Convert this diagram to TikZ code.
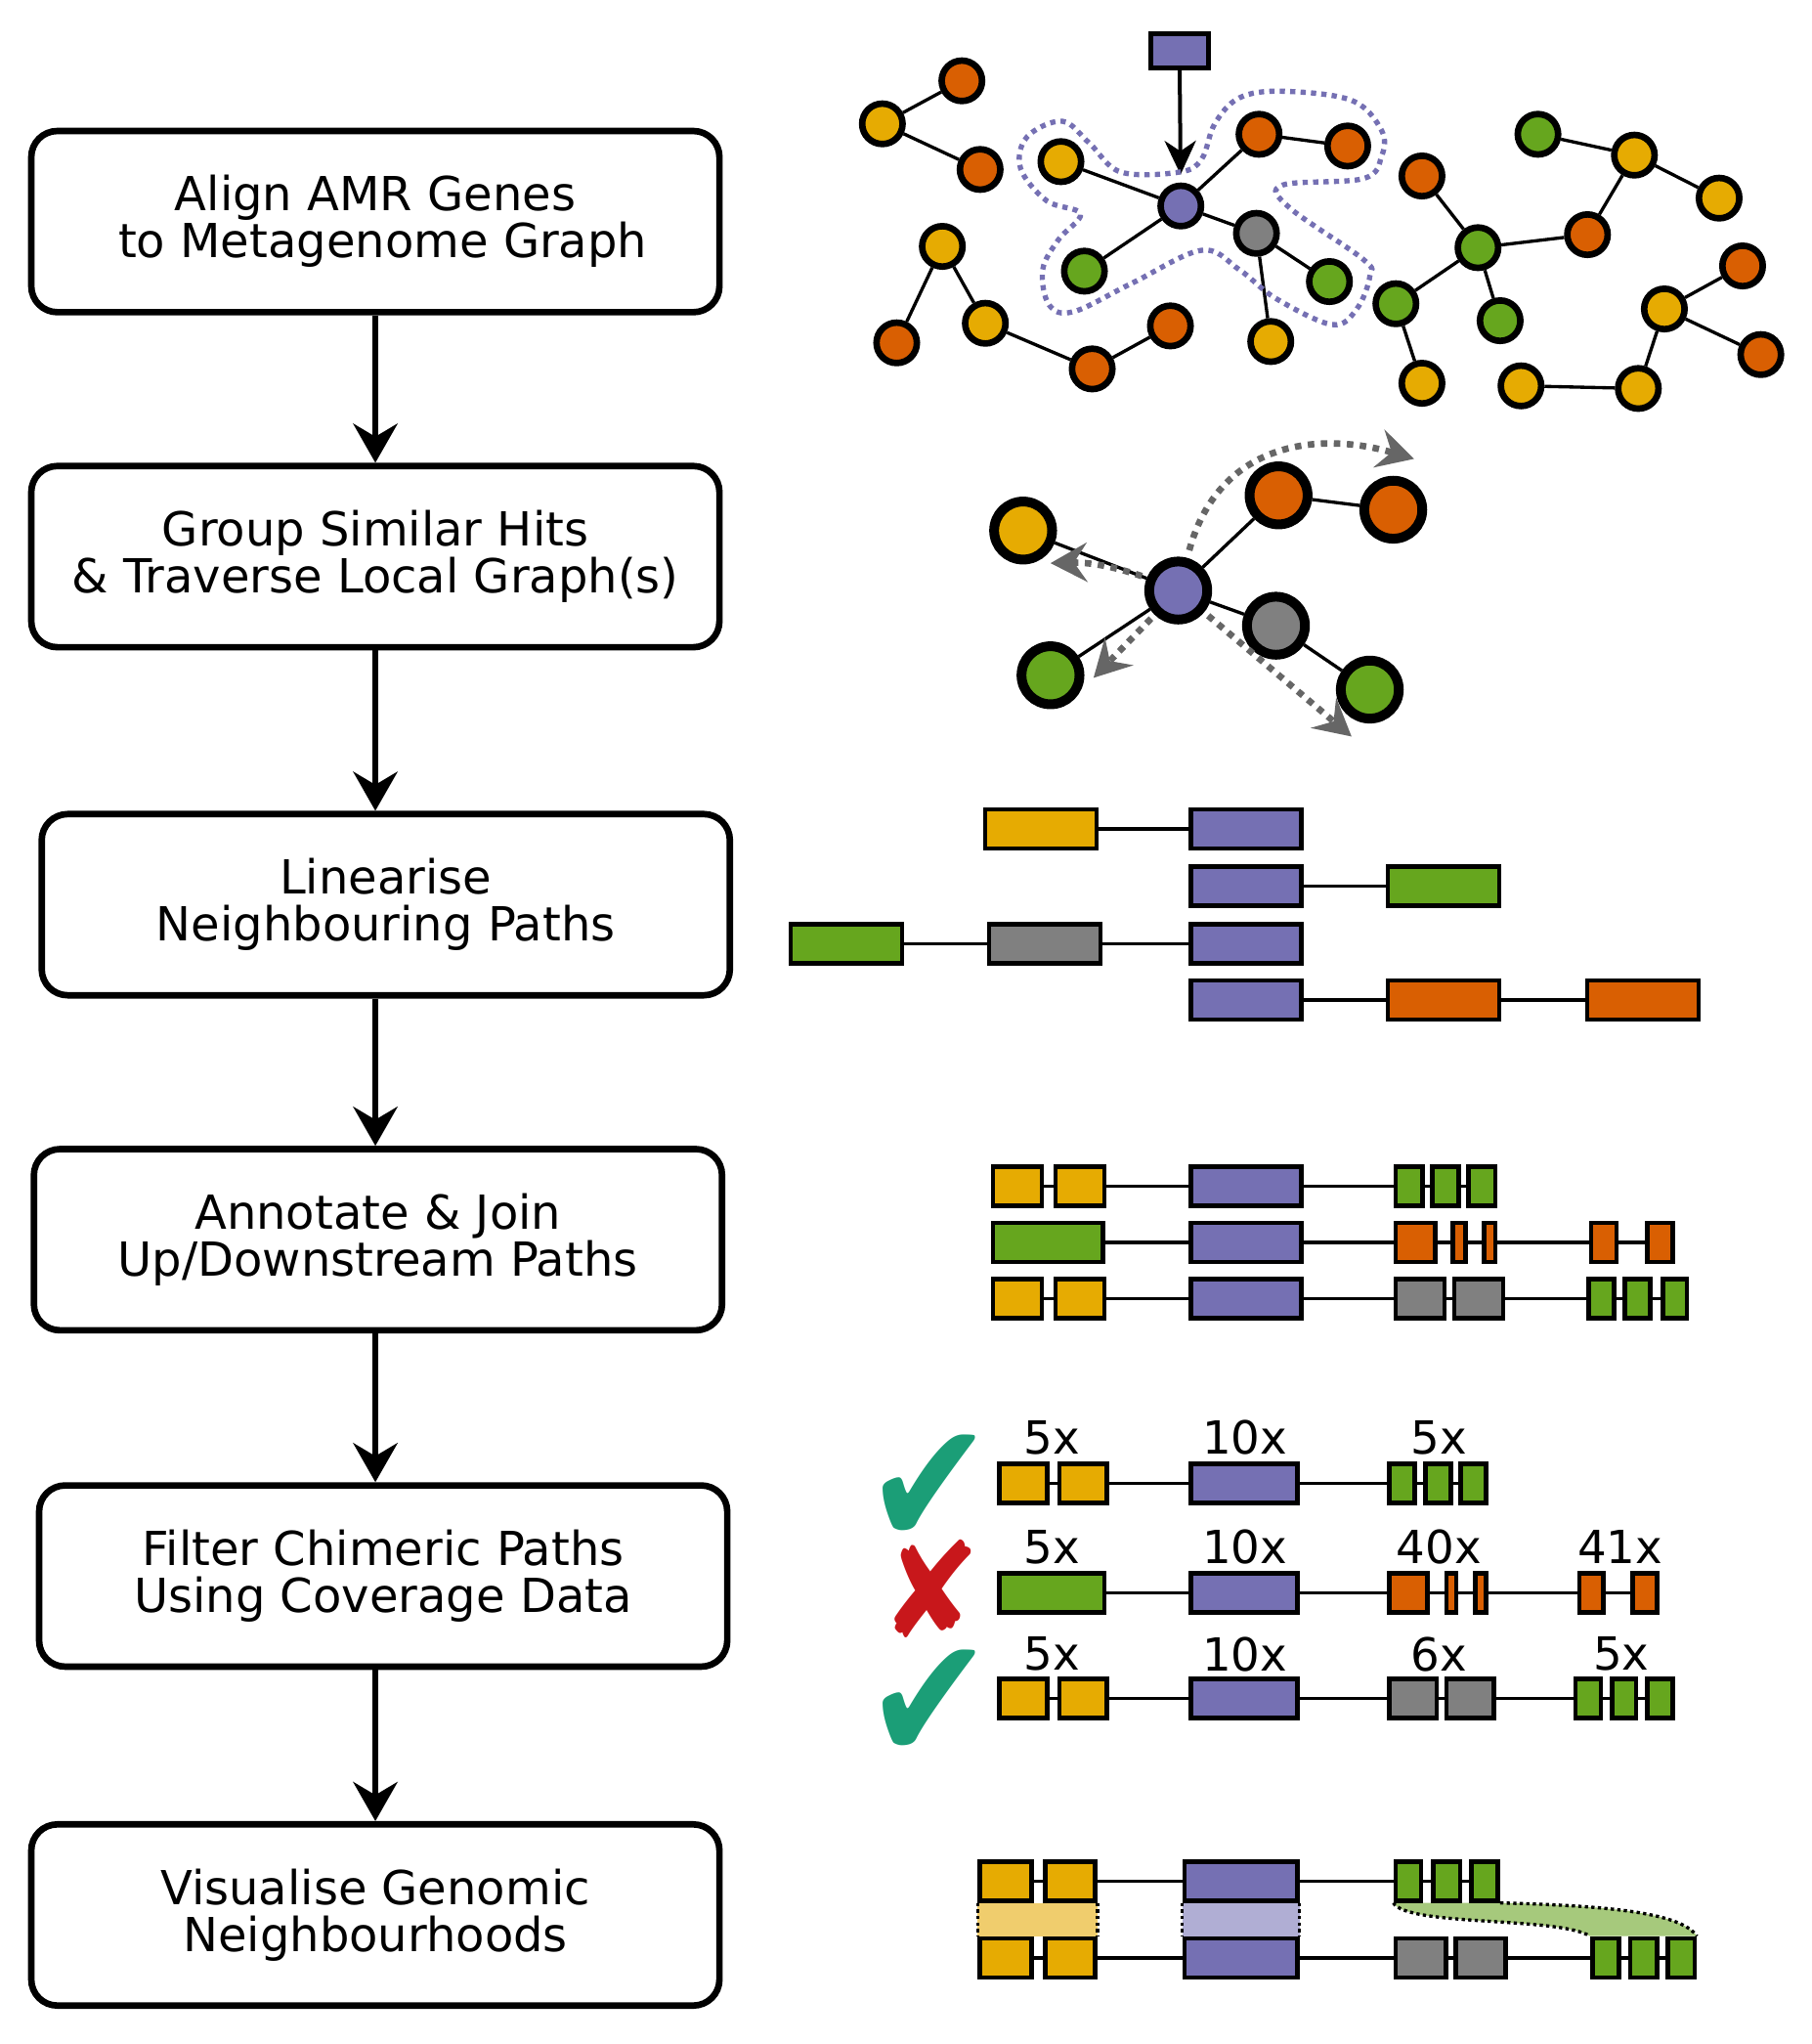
\documentclass[tikz,border=0pt]{standalone}
\usepackage{fontspec}
\setmainfont{DejaVu Sans}
\usetikzlibrary{arrows.meta}
\usetikzlibrary{positioning}
\usetikzlibrary{backgrounds}

\definecolor{ylw}{HTML}{E6AB02}
\definecolor{orn}{HTML}{D95F02}
\definecolor{prp}{HTML}{7570B3}
\definecolor{grn}{HTML}{66A61E}
\definecolor{gry}{HTML}{808080}
\definecolor{trgy}{HTML}{666666}
\definecolor{tick}{HTML}{1B9E77}
\definecolor{cross}{HTML}{C8171B}
\definecolor{lylw}{HTML}{F0CD6D}
\definecolor{lprp}{HTML}{B0AED4}
\definecolor{lgrn}{HTML}{A6C97C}

\begin{document}
\begin{tikzpicture}[x=1pt, y=-1pt,
  stage/.style={draw, line width=5pt, rounded corners=20pt,
    minimum width=528pt, minimum height=139pt, inner sep=0pt,
    align=center, font=\fontsize{36}{36}\selectfont},
  flow/.style={line width=4.5pt, -{Stealth[length=30pt, width=34pt, inset=10pt]}},
  gnode/.style={circle, draw, line width=5pt, minimum size=31pt, inner sep=0pt},
  bnode/.style={circle, draw, line width=7.5pt, minimum size=44.5pt, inner sep=0pt},
  gene/.style={rectangle, draw, line width=3.5pt, minimum height=30pt, inner sep=0pt},
  link/.style={line width=2.5pt},
  cov/.style={font=\fontsize{35}{35}\selectfont, inner sep=0pt},
  verdict/.style={font=\fontsize{90}{90}\selectfont, inner sep=0pt},
  trav/.style={draw=trgy, line width=5pt, dash pattern=on 5pt off 5pt,
    -{Stealth[length=28pt, width=30pt, inset=10pt]}},
  band/.style={line width=2.5pt, dash pattern=on 2.5pt off 2.5pt},
]
  \useasboundingbox (0,0) rectangle (1390,1568);

  % pipeline steps
  \node[stage] (st_1) at (288,170)  {Align AMR Genes\\\ to Metagenome Graph};
  \node[stage] (st_2) at (288,427)  {Group Similar Hits\\\& Traverse Local Graph(s)};
  \node[stage] (st_3) at (296,694)  {Linearise\\Neighbouring Paths};
  \node[stage] (st_4) at (290,951)  {Annotate \& Join\\Up/Downstream Paths};
  \node[stage] (st_5) at (294,1209) {Filter Chimeric Paths\\Using Coverage Data};
  \node[stage] (st_6) at (288,1469) {Visualise Genomic\\Neighbourhoods};
  \foreach \a/\b in {st_1/st_2, st_2/st_3, st_3/st_4, st_4/st_5, st_5/st_6}
    \draw[flow] (\a.south -| st_1.south) -- (\b.north -| st_1.south);

  % metagenome graph
  \foreach \n/\c/\x/\y in {t_1/orn/738/62, t_2/ylw/677/95, t_3/orn/752/130,
      t_4/ylw/723/189, t_5/orn/688/263, t_6/ylw/756/248, t_7/orn/838/283,
      t_8/orn/898/250, t_9/ylw/814/124, t_p/prp/906/158, t_10/orn/966/103,
      t_11/orn/1034/112, t_12/grn/832/208, t_13/gry/964/179, t_14/grn/1020/216,
      t_15/ylw/975/262, t_16/orn/1091/135, t_17/grn/1134/190, t_18/grn/1071/233,
      t_19/ylw/1091/294, t_20/grn/1151/246, t_21/orn/1218/180, t_22/ylw/1254/119,
      t_23/grn/1180/103, t_24/ylw/1319/152, t_25/orn/1337/204, t_26/ylw/1277/237,
      t_27/orn/1351/272, t_28/ylw/1257/298, t_29/ylw/1167/296}
    \node[gnode, fill=\c] (\n) at (\x,\y) {};
  \foreach \a/\b in {t_2/t_1, t_2/t_3, t_4/t_5, t_4/t_6, t_6/t_7, t_7/t_8,
      t_p/t_9, t_p/t_10, t_10/t_11, t_p/t_12, t_p/t_13, t_13/t_14, t_13/t_15,
      t_16/t_17, t_17/t_18, t_18/t_19, t_17/t_20, t_17/t_21, t_21/t_22,
      t_22/t_23, t_22/t_24, t_26/t_25, t_26/t_27, t_26/t_28, t_28/t_29}
    \draw[link] (\a) -- (\b);
  \node[gene, fill=prp, minimum width=44pt, minimum height=26pt] (hit) at (905,39) {};
  \draw[line width=3pt, shorten >=6pt, -{Stealth[length=26pt, width=24pt, inset=8pt]}]
    (hit) -- (t_p);
  \draw[prp, line width=4pt, dash pattern=on 4pt off 4pt]
    plot[smooth cycle, tension=0.6] coordinates {(824,239) (869,217) (922,192)
      (951,207) (979,229) (1022,249) (1041,237) (1051,212) (1046,199) (989,159)
      (984,142) (1046,137) (1060,120) (1060,100) (1037,77) (984,70) (951,75)
      (932,95) (922,122) (905,132) (860,132) (836,110) (815,93) (788,105)
      (783,129) (803,154) (829,164) (812,184) (800,207) (805,234)};

  % local graph
  \foreach \n/\c/\x/\y in {h_y/ylw/785/407, h_p/prp/904/453, h_o1/orn/981/380,
      h_o2/orn/1069/391, h_g/gry/979/480, h_n1/grn/1051/529, h_n2/grn/806/518}
    \node[bnode, fill=\c] (\n) at (\x,\y) {};
  \foreach \a/\b in {h_p/h_y, h_p/h_o1, h_o1/h_o2, h_p/h_g, h_g/h_n1, h_p/h_n2}
    \draw[link] (\a) -- (\b);
  \coordinate (h_t1) at (806,432);
  \coordinate (h_t2) at (839,520);
  \coordinate (h_t3) at (1037,565);
  \coordinate (h_t4) at (1085,352);
  \draw[trav, shorten <=4pt] (h_p) to[bend right=10] (h_t1);
  \draw[trav, shorten <=4pt] (h_p) -- (h_t2);
  \draw[trav, shorten <=4pt] (h_p) -- (h_t3);
  \draw[trav, shorten <=6pt] (h_p) .. controls (935,340) and (1010,330) .. (h_t4);

  % genes: name/colour/left/right/row
  \foreach \n/\c/\l/\r/\y in {
      l_1a/ylw/754/843/636, l_1b/prp/912/1000/636,
      l_2a/prp/912/1000/680, l_2b/grn/1063/1152/680,
      l_3a/grn/605/694/724, l_3b/gry/757/846/724, l_3c/prp/912/1000/724,
      l_4a/prp/912/1000/767, l_4b/orn/1063/1152/767, l_4c/orn/1216/1305/767,
      a_1a/ylw/760/801/910, a_1b/ylw/808/849/910, a_1c/prp/912/1000/910,
      a_1d/grn/1069/1093/910, a_1e/grn/1097/1121/910, a_1f/grn/1125/1149/910,
      a_2a/grn/760/848/953, a_2b/prp/912/1000/953, a_2c/orn/1069/1103/953,
      a_2d/orn/1113/1126/953, a_2e/orn/1137/1149/953, a_2f/orn/1219/1242/953,
      a_2g/orn/1262/1285/953,
      a_3a/ylw/760/801/996, a_3b/ylw/808/849/996, a_3c/prp/912/1000/996,
      a_3d/gry/1069/1110/996, a_3e/gry/1114/1155/996, a_3f/grn/1217/1240/996,
      a_3g/grn/1245/1268/996, a_3h/grn/1274/1296/996,
      f_1a/ylw/765/805/1138, f_1b/ylw/811/851/1138, f_1c/prp/912/997/1138,
      f_1d/grn/1064/1087/1138, f_1e/grn/1092/1115/1138, f_1f/grn/1119/1142/1138,
      f_2a/grn/765/849/1222, f_2b/prp/912/997/1222, f_2c/orn/1064/1097/1222,
      f_2d/orn/1108/1119/1222, f_2e/orn/1130/1142/1222, f_2f/orn/1210/1232/1222,
      f_2g/orn/1251/1273/1222,
      f_3a/ylw/765/805/1303, f_3b/ylw/811/851/1303, f_3c/prp/912/997/1303,
      f_3d/gry/1064/1104/1303, f_3e/gry/1108/1148/1303, f_3f/grn/1207/1230/1303,
      f_3g/grn/1235/1257/1303, f_3h/grn/1262/1285/1303,
      v_1a/ylw/750/793/1443, v_1b/ylw/800/842/1443, v_1c/prp/907/997/1443,
      v_1d/grn/1069/1092/1443, v_1e/grn/1098/1122/1443, v_1f/grn/1127/1151/1443,
      v_2a/ylw/750/793/1502, v_2b/ylw/800/842/1502, v_2c/prp/907/997/1502,
      v_2d/gry/1069/1111/1502, v_2e/gry/1115/1157/1502, v_2f/grn/1220/1244/1502,
      v_2g/grn/1249/1273/1502, v_2h/grn/1278/1302/1502}
  {
    \pgfmathsetmacro\w{\r-\l-3.5}
    \pgfmathsetmacro\cx{(\l+\r)/2}
    \node[gene, fill=\c, minimum width=\w pt] (\n) at (\cx,\y) {};
  }
  \path[link]
    (l_1a) edge (l_1b) (l_2a) edge (l_2b) (l_3a) edge (l_3b) (l_3b) edge (l_3c)
    (l_4a) edge (l_4b) (l_4b) edge (l_4c)
    (a_1a) edge (a_1b) (a_1b) edge (a_1c) (a_1c) edge (a_1d) (a_1d) edge (a_1e)
    (a_1e) edge (a_1f)
    (a_2a) edge (a_2b) (a_2b) edge (a_2c) (a_2c) edge (a_2d) (a_2d) edge (a_2e)
    (a_2e) edge (a_2f) (a_2f) edge (a_2g)
    (a_3a) edge (a_3b) (a_3b) edge (a_3c) (a_3c) edge (a_3d) (a_3d) edge (a_3e)
    (a_3e) edge (a_3f) (a_3f) edge (a_3g) (a_3g) edge (a_3h)
    (f_1a) edge (f_1b) (f_1b) edge (f_1c) (f_1c) edge (f_1d) (f_1d) edge (f_1e)
    (f_1e) edge (f_1f)
    (f_2a) edge (f_2b) (f_2b) edge (f_2c) (f_2c) edge (f_2d) (f_2d) edge (f_2e)
    (f_2e) edge (f_2f) (f_2f) edge (f_2g)
    (f_3a) edge (f_3b) (f_3b) edge (f_3c) (f_3c) edge (f_3d) (f_3d) edge (f_3e)
    (f_3e) edge (f_3f) (f_3f) edge (f_3g) (f_3g) edge (f_3h)
    (v_1a) edge (v_1b) (v_1b) edge (v_1c) (v_1c) edge (v_1d) (v_1d) edge (v_1e)
    (v_1e) edge (v_1f)
    (v_2a) edge (v_2b) (v_2b) edge (v_2c) (v_2c) edge (v_2d) (v_2d) edge (v_2e)
    (v_2e) edge (v_2f) (v_2f) edge (v_2g) (v_2g) edge (v_2h);

  % coverage
  \node[cov] (c_1a) at (807,1103) {5x};
  \node[cov] (c_1b) at (955,1103) {10x};
  \node[cov] (c_1c) at (1104,1103) {5x};
  \node[cov] (c_2a) at (807,1187) {5x};
  \node[cov] (c_2b) at (955,1187) {10x};
  \node[cov] (c_2c) at (1104,1187) {40x};
  \node[cov] (c_2d) at (1243,1187) {41x};
  \node[cov] (c_3a) at (807,1269) {5x};
  \node[cov] (c_3b) at (955,1269) {10x};
  \node[cov] (c_3c) at (1104,1269) {6x};
  \node[cov] (c_3d) at (1244,1269) {5x};
  \node[verdict, text=tick] (ok_1) at (713,1143) {\scalebox{1.3}[1.5]{✔}};
  \node[verdict, text=cross] (no_2) at (714,1219) {\scalebox{1.03}[1.13]{✘}};
  \node[verdict, text=tick] (ok_3) at (713,1308) {\scalebox{1.3}[1.5]{✔}};

  % shared blocks
  \begin{scope}[on background layer]
    \fill[lylw] (v_1a.south west) rectangle (v_2b.north east);
    \fill[lprp] (v_1c.south west) rectangle (v_2c.north east);
    \fill[lgrn] (v_1d.south west) .. controls (1080,1478) and (1195,1470) .. (v_2f.north west)
      -- (v_2h.north east) .. controls (1290,1468) and (1240,1462) .. (v_1f.south east) -- cycle;
  \end{scope}
  \draw[band] (v_1a.south west) -- (v_2a.north west);
  \draw[band] (v_1b.south east) -- (v_2b.north east);
  \draw[band] (v_1c.south west) -- (v_2c.north west);
  \draw[band] (v_1c.south east) -- (v_2c.north east);
  \draw[band] (v_1d.south west) .. controls (1080,1478) and (1195,1470) .. (v_2f.north west);
  \draw[band] (v_1f.south east) .. controls (1240,1462) and (1290,1468) .. (v_2h.north east);
\end{tikzpicture}
\end{document}
